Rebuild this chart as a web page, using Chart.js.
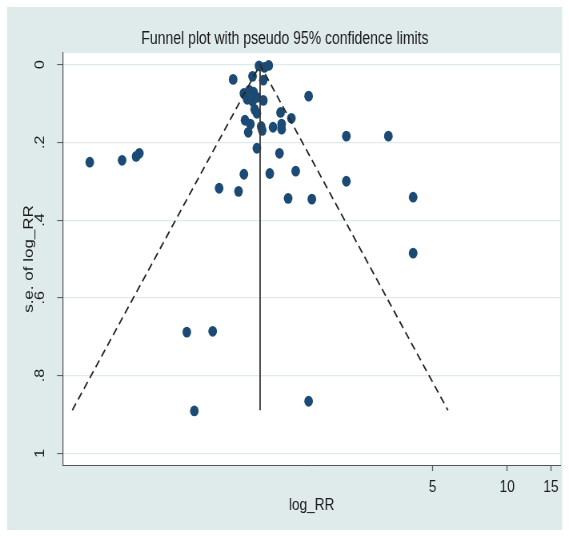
<!DOCTYPE html>
<html>
<head>
<meta charset="utf-8">
<title>Funnel plot</title>
<script src="https://cdn.jsdelivr.net/npm/chart.js@4"></script>
<style>
  html, body { margin: 0; padding: 0; background: #ffffff; overflow: hidden; }
  #wrap { width: 569px; height: 536px; overflow: hidden; }
  /* the figure is laid out wide and then narrowed to its final 569px width */
  #chart { display: block; transform: scaleX(0.80028); transform-origin: 0 0; }
</style>
</head>
<body>
<div id="wrap"><canvas id="chart" width="711" height="536"></canvas></div>
<script>
// Study estimates: natural log of the risk ratio and its standard error
const logRR = [
  0.00, 0.05, 0.09, -0.24, -0.06, 0.04,
  -0.14, -0.09, -0.05, -0.11, -0.06, -0.02, 0.04,
  -0.04, -0.02, 0.20, 0.30, 0.46,
  -0.13, -0.08, -0.10, 0.02, 0.03, 0.13, 0.21, 0.21,
  0.81, 1.20, -0.02, 0.19,
  -1.57, -1.27, -1.14, -1.11,
  -0.14, 0.10, 0.34, 0.81,
  -0.37, -0.19, 0.27, 0.49, 1.43, 1.43,
  -0.67, -0.43, -0.60, 0.46
];
const seLogRR = [
  0.003, 0.007, 0.002, 0.038, 0.030, 0.040,
  0.074, 0.066, 0.071, 0.089, 0.094, 0.084, 0.092,
  0.115, 0.125, 0.123, 0.138, 0.081,
  0.143, 0.153, 0.174, 0.159, 0.169, 0.161, 0.153, 0.166,
  0.184, 0.184, 0.215, 0.228,
  0.251, 0.246, 0.236, 0.228,
  0.282, 0.280, 0.274, 0.300,
  0.318, 0.326, 0.344, 0.346, 0.341, 0.485,
  0.688, 0.686, 0.891, 0.866
];

// Pooled estimate and the pseudo 95% confidence limits around it
const pooledLogRR = 0.01;
const pooledSeRange = [0, 0.889];
const funnelLogRR = [-1.732, 0.01, 1.752];
const funnelSe = [0.889, 0, 0.889];

// Axis ticks
const xTickLabels = [5, 10, 15];
const yTickValues = [0, 0.2, 0.4, 0.6, 0.8, 1];
const yTickLabels = ['0', '.2', '.4', '.6', '.8', '1'];

const panelColor = '#dfebeb';
const markerColor = '#1b4b74';
const inkColor = '#1a1a1a';
const fontFamily = '"Liberation Sans", Arial, sans-serif';

// Light panel behind the plot and a white plot region
const backdrop = {
  id: 'backdrop',
  beforeDraw(chart) {
    const { ctx, chartArea: a } = chart;
    ctx.save();
    ctx.fillStyle = '#ffffff';
    ctx.fillRect(0, 0, chart.width, chart.height);
    ctx.fillStyle = panelColor;
    ctx.fillRect(8.75, 7, 693.75, 523);
    ctx.fillStyle = '#ffffff';
    ctx.fillRect(a.left, a.top, a.right - a.left, a.bottom - a.top);
    ctx.restore();
  }
};

const studies = logRR.map((x, i) => ({ x, y: seLogRR[i] }));
const funnel = funnelLogRR.map((x, i) => ({ x, y: funnelSe[i] }));
const pooledLine = pooledSeRange.map(y => ({ x: pooledLogRR, y }));

new Chart(document.getElementById('chart'), {
  type: 'scatter',
  data: {
    datasets: [
      {
        label: 'Studies',
        data: studies,
        order: 3,
        pointRadius: 5.4,
        pointHoverRadius: 5.4,
        pointBackgroundColor: markerColor,
        pointBorderWidth: 0,
        showLine: false
      },
      {
        label: 'Pseudo 95% limits',
        data: funnel,
        order: 2,
        showLine: true,
        borderColor: '#262626',
        borderWidth: 1.8,
        borderDash: [8, 5],
        pointRadius: 0,
        fill: false
      },
      {
        label: 'Pooled',
        data: pooledLine,
        order: 1,
        showLine: true,
        borderColor: '#3a3a3a',
        borderWidth: 1.8,
        pointRadius: 0,
        fill: false
      }
    ]
  },
  options: {
    responsive: false,
    animation: false,
    devicePixelRatio: 1,
    events: [],
    layout: { padding: { left: 12, right: 11, top: 0, bottom: 0 }, autoPadding: false },
    plugins: {
      legend: { display: false },
      tooltip: { enabled: false },
      title: {
        display: true,
        text: 'Funnel plot with pseudo 95% confidence limits',
        color: inkColor,
        font: { family: fontFamily, size: 17.5, weight: 'normal', lineHeight: 1.2 },
        padding: { top: 28.4, bottom: 3.6 }
      }
    },
    scales: {
      x: {
        type: 'linear',
        min: -1.818,
        max: 2.794,
        afterBuildTicks: s => { s.ticks = xTickLabels.map(v => ({ value: Math.log(v) })); },
        afterFit: s => { s.height = 71; },
        ticks: {
          callback: (v, i) => String(xTickLabels[i]),
          color: inkColor,
          font: { family: fontFamily, size: 17 },
          padding: 5.8,
          maxRotation: 0,
          autoSkip: false
        },
        grid: { drawOnChartArea: false, tickLength: 6, tickColor: '#555555', tickWidth: 1.25 },
        border: { color: '#555555', width: 1 },
        title: {
          display: true,
          text: 'log_RR',
          color: inkColor,
          font: { family: fontFamily, size: 17 },
          padding: { top: 0, bottom: 20.8 }
        }
      },
      y: {
        type: 'linear',
        reverse: true,
        min: -0.03,
        max: 1.03,
        afterBuildTicks: s => { s.ticks = yTickValues.map(v => ({ value: v })); },
        afterFit: s => { s.width = 66.75; },
        ticks: {
          callback: (v, i) => yTickLabels[i],
          color: inkColor,
          font: { family: fontFamily, size: 16 },
          minRotation: 90,
          maxRotation: 90,
          crossAlign: 'center',
          padding: 14,
          autoSkip: false
        },
        grid: { color: panelColor, lineWidth: 1.2, tickLength: 7.5, tickColor: '#555555', tickWidth: 1 },
        border: { color: '#555555', width: 1.25 },
        title: {
          display: true,
          text: 's.e. of log_RR',
          color: inkColor,
          font: { family: fontFamily, size: 17 },
          padding: { top: 13.8, bottom: 0 }
        }
      }
    }
  },
  plugins: [backdrop]
});
</script>
</body>
</html>
